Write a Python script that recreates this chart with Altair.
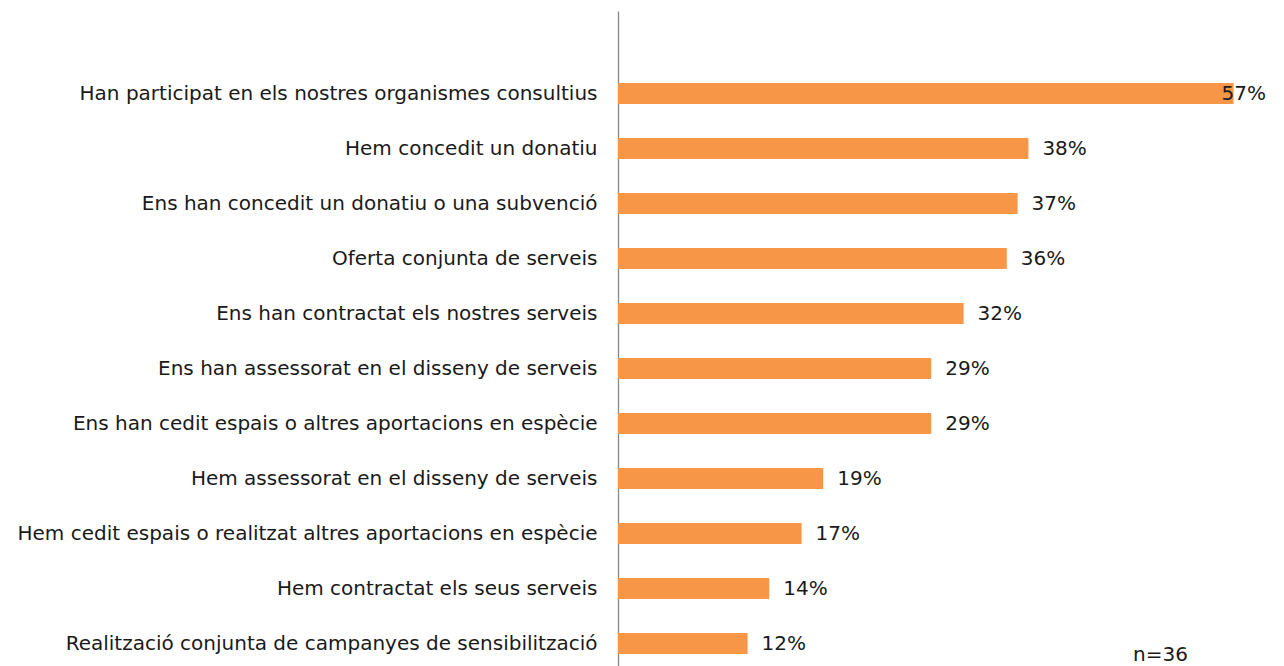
import altair as alt
import pandas as pd

categories = [
    "Han participat en els nostres organismes consultius",
    "Hem concedit un donatiu",
    "Ens han concedit un donatiu o una subvenció",
    "Oferta conjunta de serveis",
    "Ens han contractat els nostres serveis",
    "Ens han assessorat en el disseny de serveis",
    "Ens han cedit espais o altres aportacions en espècie",
    "Hem assessorat en el disseny de serveis",
    "Hem cedit espais o realitzat altres aportacions en espècie",
    "Hem contractat els seus serveis",
    "Realització conjunta de campanyes de sensibilització",
]
values = [0.57, 0.38, 0.37, 0.36, 0.32, 0.29, 0.29, 0.19, 0.17, 0.14, 0.12]
note = "n=36"

df = pd.DataFrame({"cat": categories, "val": values})
df["label"] = (df["val"] * 100).round().astype(int).astype(str) + "%"
maxval = max(values)

domain = [" "] + categories
FONT = "DejaVu Sans"
TXT = "#1a1a1a"

y = alt.Y("cat:N", sort=domain,
          scale=alt.Scale(domain=domain, paddingInner=0, paddingOuter=0),
          axis=alt.Axis(title=None, ticks=False, grid=False, domainColor="#888888",
                        domainWidth=1.3, labelPadding=21, labelLimit=0,
                        labelFont=FONT, labelFontSize=20, labelColor=TXT))
x = alt.X("val:Q", scale=alt.Scale(domain=[0, 0.6]), axis=None)

base = alt.Chart(df)
bars = base.mark_bar(size=21, color="#F79646").encode(x=x, y=y)
labels = base.transform_filter(alt.datum.val < maxval).mark_text(
    align="left", baseline="middle", dx=14, font=FONT, fontSize=20, color=TXT
).encode(x=x, y=y, text="label:N")
toplabel = base.transform_filter(alt.datum.val >= maxval).mark_text(
    align="left", baseline="middle", dx=-12, font=FONT, fontSize=20, color=TXT
).encode(x=x, y=y, text="label:N")
ntext = alt.Chart(pd.DataFrame({"t": [note]})).mark_text(
    align="left", baseline="middle", font=FONT, fontSize=20, color=TXT
).encode(x=alt.value(515), y=alt.value(644), text="t:N")

chart = alt.layer(bars, labels, toplabel, ntext).properties(
    width=648, height=660,
    autosize=alt.AutoSizeParams(type="none"),
    padding={"left": 610, "top": 3, "right": 4, "bottom": 0},
).configure_view(stroke=None)

chart.save("out.html", embed_options={"renderer": "svg", "actions": False})
